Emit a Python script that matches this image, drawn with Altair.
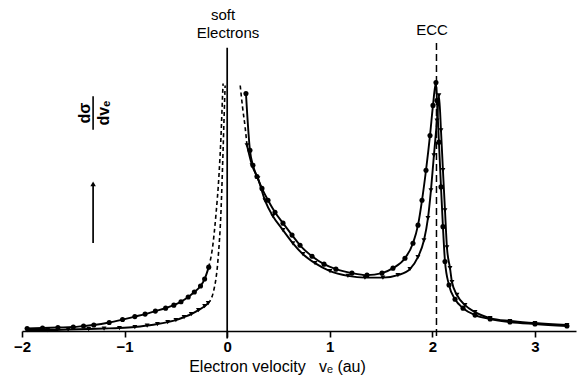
import altair as alt
import pandas as pd

# ---- data (x: electron velocity in au, y: relative dσ/dv_e) ----
c1_left_x = [-1.95, -1.8, -1.65, -1.5, -1.4, -1.3, -1.15, -1.02, -0.9, -0.8, -0.7, -0.6,
             -0.52, -0.45, -0.38, -0.32, -0.26, -0.22, -0.18]
c1_left_y = [0.010, 0.012, 0.014, 0.016, 0.020, 0.024, 0.034, 0.046, 0.058, 0.068, 0.080,
             0.092, 0.104, 0.118, 0.137, 0.157, 0.181, 0.209, 0.257]
c1_dash_x = [-0.18, -0.14, -0.11, -0.08, -0.06, -0.045, -0.04]
c1_dash_y = [0.257, 0.345, 0.466, 0.627, 0.787, 0.948, 0.996]

c2_left_x = [-1.95, -1.75, -1.55, -1.35, -1.2, -1.05, -0.9, -0.78, -0.68, -0.58, -0.5,
             -0.42, -0.35, -0.28, -0.22, -0.185]
c2_left_y = [0.004, 0.004, 0.006, 0.008, 0.010, 0.012, 0.016, 0.022, 0.028, 0.036, 0.044,
             0.056, 0.068, 0.084, 0.100, 0.112]
c2_dash_x = [-0.185, -0.13, -0.09, -0.06, -0.04, -0.025, -0.02]
c2_dash_y = [0.112, 0.165, 0.285, 0.486, 0.727, 0.928, 0.988]

c2_rdash_x = [0.127, 0.15, 0.175, 0.193]
c2_rdash_y = [0.988, 0.90, 0.82, 0.747]

c1_right_x = [0.183, 0.222, 0.251, 0.290, 0.339, 0.398, 0.466, 0.544, 0.632, 0.71, 0.827,
              0.944, 1.06, 1.216, 1.363, 1.509, 1.616, 1.733, 1.811, 1.86, 1.899, 1.938,
              1.977, 2.006, 2.035, 2.045, 2.064, 2.084, 2.103, 2.123, 2.162, 2.221, 2.299,
              2.416, 2.563, 2.756, 3.0, 3.312]
c1_right_y = [0.956, 0.727, 0.667, 0.622, 0.574, 0.526, 0.478, 0.434, 0.386, 0.345, 0.301,
              0.269, 0.249, 0.233, 0.225, 0.233, 0.253, 0.293, 0.353, 0.426, 0.526, 0.647,
              0.787, 0.908, 1.0, 0.928, 0.760, 0.580, 0.420, 0.280, 0.185, 0.128, 0.092,
              0.064, 0.048, 0.036, 0.028, 0.020]

c2_right_x = [0.193, 0.242, 0.300, 0.368, 0.446, 0.544, 0.641, 0.739, 0.856, 1.002, 1.177,
              1.343, 1.518, 1.664, 1.781, 1.859, 1.918, 1.957, 1.986, 2.015, 2.045, 2.064,
              2.084, 2.103, 2.123, 2.142, 2.172, 2.191, 2.240, 2.318, 2.416, 2.563, 2.756,
              3.0, 3.312]
c2_right_y = [0.747, 0.667, 0.614, 0.526, 0.462, 0.406, 0.353, 0.309, 0.273, 0.241, 0.222,
              0.215, 0.215, 0.225, 0.249, 0.297, 0.365, 0.454, 0.566, 0.707, 0.847, 0.948,
              0.807, 0.647, 0.486, 0.337, 0.253, 0.197, 0.145, 0.104, 0.076, 0.052, 0.040,
              0.032, 0.024]

x_ticks = [-2, -1, 0, 1, 2, 3]
ecc_v = 2.04

def seg(xs, ys, name):
    return pd.DataFrame({"x": xs, "y": ys, "seg": name})

solid = pd.concat([seg(c1_left_x, c1_left_y, "c1l"), seg(c2_left_x, c2_left_y, "c2l"),
                   seg(c1_right_x, c1_right_y, "c1r"), seg(c2_right_x, c2_right_y, "c2r")])
dashed = pd.concat([seg(c1_dash_x, c1_dash_y, "c1d"), seg(c2_dash_x, c2_dash_y, "c2d"),
                    seg(c2_rdash_x, c2_rdash_y, "c2rd")])
circles = pd.concat([seg(c1_left_x, c1_left_y, "c1l"), seg(c1_right_x, c1_right_y, "c1r")])
triangles = pd.concat([seg(c2_left_x, c2_left_y, "c2l"), seg(c2_right_x, c2_right_y, "c2r")])

xs = alt.Scale(domain=[-2, 3.4], nice=False, zero=False)
ys = alt.Scale(domain=[0, 1.3], nice=False, zero=False)
FONT = "Liberation Sans"

X = alt.X("x:Q", scale=xs, axis=alt.Axis(
    values=x_ticks, title="Electron velocity\u00a0\u00a0\u00a0vₑ (au)", grid=False,
    domainColor="black", domainWidth=1.6, tickColor="black", tickSize=6, tickWidth=1.6,
    labelFont=FONT, labelFontSize=15, labelFontWeight="bold", labelColor="black",
    labelPadding=2, labelFlush=False,
    titleFont=FONT, titleFontSize=16, titleFontWeight="normal", titleColor="black",
    titleX=255, titleY=40, titleBaseline="alphabetic"))
Y = alt.Y("y:Q", scale=ys, axis=None)

solid_lines = alt.Chart(solid).mark_line(color="black", strokeWidth=1.9, interpolate="monotone").encode(
    x=X, y=Y, detail="seg:N")
dashed_lines = alt.Chart(dashed).mark_line(color="black", strokeWidth=1.6, strokeDash=[4, 3],
                                            interpolate="monotone").encode(x=X, y=Y, detail="seg:N")
circ = alt.Chart(circles).mark_point(shape="circle", filled=True, color="black", size=26, opacity=1).encode(x=X, y=Y)
tri = alt.Chart(triangles).mark_point(shape="triangle-down", filled=True, color="black", size=24, opacity=1).encode(x=X, y=Y)

vline = alt.Chart(pd.DataFrame({"x": [0.0], "y": [-0.03], "y2": [1.14]})).mark_rule(
    color="black", strokeWidth=1.7, clip=False).encode(x=X, y=Y, y2="y2:Q")
ecc_line = alt.Chart(pd.DataFrame({"x": [ecc_v], "y": [-0.02], "y2": [1.165]})).mark_rule(
    color="black", strokeWidth=1.5, strokeDash=[7, 4], clip=False).encode(x=X, y=Y, y2="y2:Q")

labels = pd.DataFrame({"x": [-0.04, 0.008, 1.996], "y": [1.272, 1.2, 1.213],
                       "t": ["soft", "Electrons", "ECC"]})
ann = alt.Chart(labels).mark_text(font=FONT, fontSize=15, color="black", baseline="middle",
                                  align="center").encode(x=X, y=Y, text="t:N")

frac = pd.DataFrame({"x": [-1.386, -1.205], "y": [0.877, 0.877], "t": ["dσ", "dvₑ"]})
frac_txt = alt.Chart(frac).mark_text(font=FONT, fontSize=16, fontWeight="bold", color="black", angle=270,
                                     baseline="middle", align="center").encode(x=X, y=Y, text="t:N")
frac_bar = alt.Chart(pd.DataFrame({"x": [-1.307], "y": [0.810], "y2": [0.945]})).mark_rule(
    color="black", strokeWidth=1.6).encode(x=X, y=Y, y2="y2:Q")
arrow = alt.Chart(pd.DataFrame({"x": [-1.307], "y": [0.354], "y2": [0.585]})).mark_rule(
    color="black", strokeWidth=1.7).encode(x=X, y=Y, y2="y2:Q")
arrow_head = alt.Chart(pd.DataFrame({"x": [-1.307], "y": [0.592]})).mark_point(
    shape="triangle-up", filled=True, color="black", size=30, opacity=1).encode(x=X, y=Y)

chart = alt.layer(solid_lines, dashed_lines, circ, tri, vline, ecc_line, ann,
                  frac_txt, frac_bar, arrow, arrow_head).properties(
    width=554, height=323,
    padding={"left": 22, "top": 8, "right": 3, "bottom": 48},
    autosize=alt.AutoSizeParams(type="none"),
    background="white",
).configure_view(stroke=None)

chart.save("out.html", embed_options={"renderer": "svg", "actions": False})
